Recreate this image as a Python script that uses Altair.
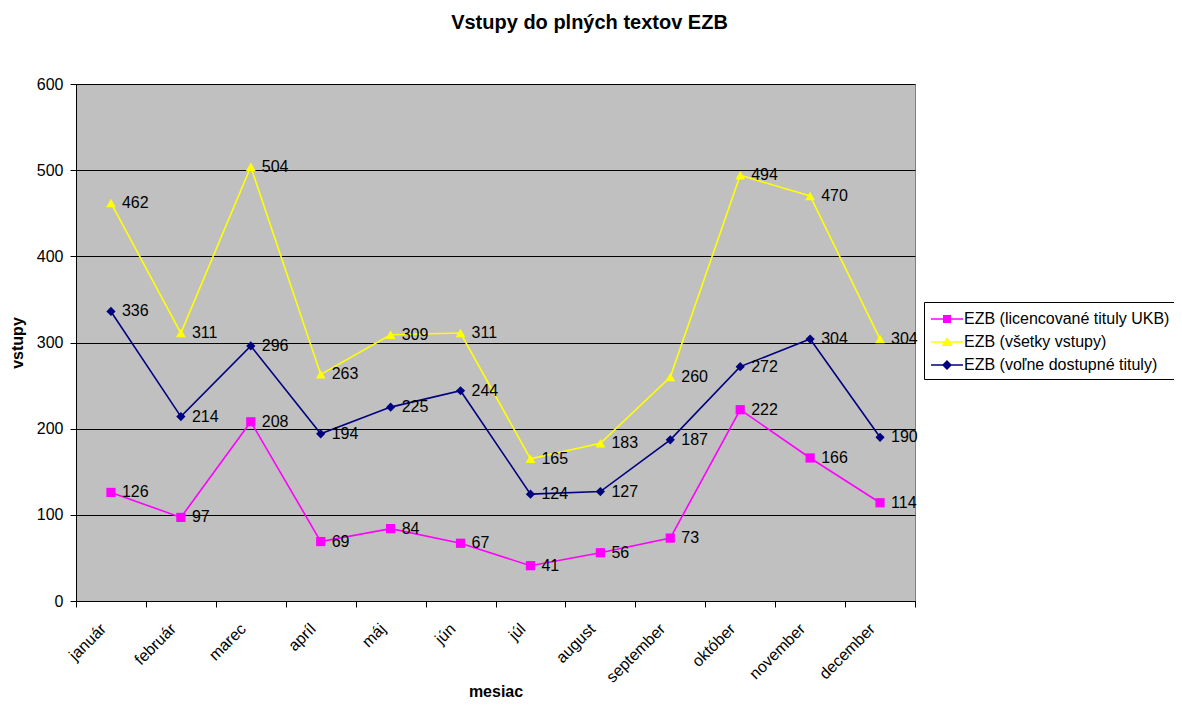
import altair as alt
import pandas as pd

months = ["január", "február", "marec", "apríl", "máj", "jún", "júl",
          "august", "september", "október", "november", "december"]
series = ["EZB (licencované tituly UKB)", "EZB (všetky vstupy)", "EZB (voľne dostupné tituly)"]
licencovane = [126, 97, 208, 69, 84, 67, 41, 56, 73, 222, 166, 114]
vsetky = [462, 311, 504, 263, 309, 311, 165, 183, 260, 494, 470, 304]
volne = [336, 214, 296, 194, 225, 244, 124, 127, 187, 272, 304, 190]
colors = ["#FF00FF", "#FFFF00", "#000080"]
shapes = ["square", "triangle-up", "diamond"]
sizes = [85, 95, 85]
legend_paths = [
    "M-1.6,-0.075H1.6V0.075H-1.6Z M-0.4,-0.4H0.4V0.4H-0.4Z",
    "M-1.6,-0.075H1.6V0.075H-1.6Z M0,-0.5L0.55,0.4H-0.55Z",
    "M-1.6,-0.075H1.6V0.075H-1.6Z M0,-0.5L0.5,0L0,0.5L-0.5,0Z",
]

rows = []
for s, vals in zip(series, [licencovane, vsetky, volne]):
    for m, v in zip(months, vals):
        rows.append({"mesiac": m, "vstupy": v, "series": s})
df = pd.DataFrame(rows)

FONT = "Liberation Sans"
FS = 16

x = alt.X("mesiac:N", sort=months, title="mesiac",
          scale=alt.Scale(paddingInner=0, paddingOuter=0),
          axis=alt.Axis(labelAngle=-45, labelAlign="right", labelBaseline="middle",
                        labelOffset=-8, labelPadding=19, tickBand="extent", tickSize=6,
                        grid=False, domainColor="#000000", tickColor="#000000",
                        labelFontSize=FS, labelFont=FONT, labelColor="#000000",
                        titleFontSize=FS, titleFont=FONT, titleFontWeight="bold",
                        titleColor="#000000", titleBaseline="alphabetic", titleY=95))
y = alt.Y("vstupy:Q", title="vstupy",
          scale=alt.Scale(domain=[0, 600], nice=False),
          axis=alt.Axis(values=[0, 100, 200, 300, 400, 500, 600], grid=True,
                        gridColor="#000000", gridWidth=1, tickSize=6, labelPadding=7,
                        domainColor="#000000", tickColor="#000000",
                        labelFontSize=FS, labelFont=FONT, labelColor="#000000",
                        titleFontSize=FS, titleFont=FONT, titleFontWeight="bold",
                        titleColor="#000000", titleBaseline="alphabetic", titleX=-54))

base = alt.Chart(df)
layers = []
for s, c, sh, sz in zip(series, colors, shapes, sizes):
    sub = base.transform_filter(alt.datum.series == s)
    layers.append(sub.mark_line(color=c, strokeWidth=1.6).encode(x=x, y=y))
    layers.append(sub.mark_point(filled=True, opacity=1, color=c, shape=sh, size=sz)
                  .encode(x=x, y=y))
texts = base.mark_text(align="left", baseline="middle", dx=11, fontSize=FS,
                       font=FONT, color="#000000").encode(x=x, y=y, text="vstupy:Q")
layers.append(texts)

legend_layer = base.transform_filter("false").mark_point(filled=True, opacity=1).encode(
    color=alt.Color("series:N",
                    scale=alt.Scale(domain=series, range=colors),
                    legend=alt.Legend(title=None, orient="none", legendX=848, legendY=218,
                                      symbolSize=400, symbolOffset=6, labelOffset=6,
                                      rowPadding=4, padding=6, strokeColor="#000000",
                                      fillColor="#FFFFFF", labelFontSize=FS,
                                      labelFont=FONT, labelColor="#000000",
                                      labelLimit=400)),
    shape=alt.Shape("series:N", scale=alt.Scale(domain=series, range=legend_paths)),
)
layers.append(legend_layer)

chart = alt.layer(*layers).properties(
    width=839, height=517,
    autosize=alt.AutoSizeParams(type="none"),
    padding={"left": 68, "top": 76, "right": 259, "bottom": 100},
    view=alt.ViewBackground(fill="#C0C0C0", stroke="#808080", strokeWidth=1),
    title=alt.TitleParams("Vstupy do plných textov EZB", fontSize=20, font=FONT,
                          fontWeight="bold", color="#000000", dx=94, offset=43),
).configure_view(fill="#C0C0C0", stroke="#808080", strokeWidth=1)

chart.save("out.html", embed_options={"renderer": "svg", "actions": False})
